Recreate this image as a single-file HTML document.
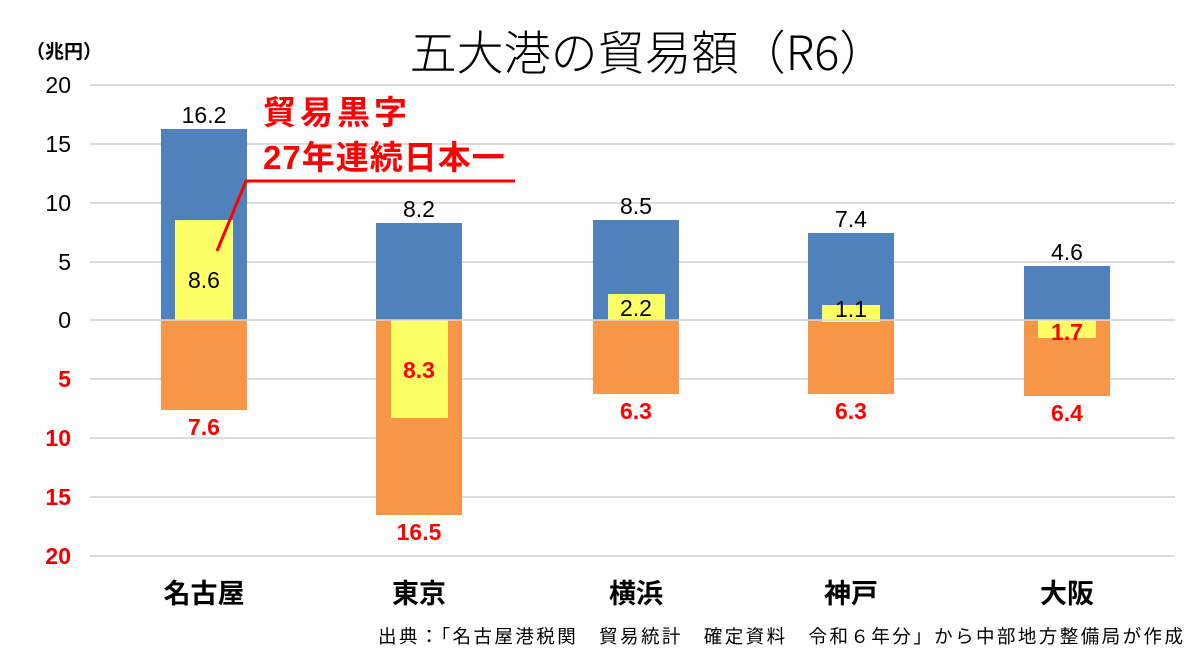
<!DOCTYPE html>
<html><head><meta charset="utf-8"><style>
body{margin:0;background:#fff;}
svg text{font-family:"Liberation Sans","Noto Sans CJK JP",sans-serif;}
</style></head><body>
<svg width="1198" height="659" xmlns="http://www.w3.org/2000/svg">
<rect width="1198" height="659" fill="#fff"/>
<text x="648" y="70" font-size="47" text-anchor="middle" style="font-family:'Noto Sans CJK JP',sans-serif;font-weight:300">五大港の貿易額（R6）</text>
<text x="26" y="58" font-size="19" font-weight="bold" style="font-family:'Noto Sans CJK JP',sans-serif">（兆円）</text>
<g stroke="#d0d0d0" stroke-width="1.5">
<line x1="90" x2="1175" y1="85" y2="85"/><line x1="90" x2="1175" y1="144" y2="144"/>
<line x1="90" x2="1175" y1="203" y2="203"/><line x1="90" x2="1175" y1="262" y2="262"/>
<line x1="90" x2="1175" y1="320" y2="320"/><line x1="90" x2="1175" y1="379" y2="379"/>
<line x1="90" x2="1175" y1="438" y2="438"/><line x1="90" x2="1175" y1="497" y2="497"/>
<line x1="90" x2="1175" y1="556" y2="556"/>
</g>
<g font-size="23" text-anchor="end">
<text x="71" y="93">20</text><text x="71" y="152">15</text><text x="71" y="211">10</text>
<text x="71" y="270">5</text><text x="71" y="328">0</text>
<g fill="#e00" font-weight="bold">
<text x="71" y="387">5</text><text x="71" y="446">10</text>
<text x="71" y="505">15</text><text x="71" y="564">20</text></g>
</g>
<g>
<rect x="161" y="129" width="86" height="191" fill="#4f81bd"/>
<rect x="161" y="320" width="86" height="90" fill="#f79646"/>
<rect x="175" y="220" width="58" height="100" fill="#ffff66"/>
<rect x="376" y="223" width="86" height="97" fill="#4f81bd"/>
<rect x="376" y="320" width="86" height="195" fill="#f79646"/>
<rect x="391" y="320" width="57" height="98" fill="#ffff66"/>
<rect x="593" y="220" width="86" height="100" fill="#4f81bd"/>
<rect x="593" y="320" width="86" height="74" fill="#f79646"/>
<rect x="608" y="294" width="57" height="26" fill="#ffff66"/>
<rect x="808" y="233" width="86" height="87" fill="#4f81bd"/>
<rect x="808" y="320" width="86" height="74" fill="#f79646"/>
<rect x="822" y="305" width="58" height="17" fill="#ffff66"/>
<rect x="1024" y="266" width="86" height="54" fill="#4f81bd"/>
<rect x="1024" y="320" width="86" height="76" fill="#f79646"/>
<rect x="1038" y="320" width="58" height="18" fill="#ffff66"/>
</g>
<line x1="90" x2="1175" y1="320" y2="320" stroke="#d8d8d8" stroke-width="1.5"/>
<g font-size="23" text-anchor="middle">
<text x="204" y="123">16.2</text><text x="419" y="217">8.2</text><text x="636" y="214">8.5</text>
<text x="851" y="227">7.4</text><text x="1067" y="260">4.6</text>
<text x="204" y="288">8.6</text><text x="636" y="316">2.2</text><text x="851" y="317">1.1</text>
<g fill="#f00" font-weight="bold">
<text x="204" y="435">7.6</text><text x="419" y="540">16.5</text><text x="636" y="419">6.3</text>
<text x="851" y="419">6.3</text><text x="1067" y="421">6.4</text>
<text x="419" y="378">8.3</text><text x="1067" y="340">1.7</text>
</g>
</g>
<g font-size="27" font-weight="bold" text-anchor="middle">
<text x="204" y="603">名古屋</text><text x="419" y="603">東京</text><text x="636" y="603">横浜</text>
<text x="851" y="603">神戸</text><text x="1067" y="603">大阪</text>
</g>
<text x="263" y="124" font-size="33" font-weight="bold" fill="#f00" letter-spacing="4">貿易黒字</text>
<text x="263" y="169" font-size="33" font-weight="bold" fill="#f00" letter-spacing="1">27年連続日本一</text>
<polyline points="217,251 246,181 515,181" fill="none" stroke="#f00" stroke-width="3"/>
<text x="378" y="643" font-size="18.5" textLength="805" lengthAdjust="spacing">出典：「名古屋港税関　貿易統計　確定資料　令和６年分」から中部地方整備局が作成</text>
</svg>
</body></html>
